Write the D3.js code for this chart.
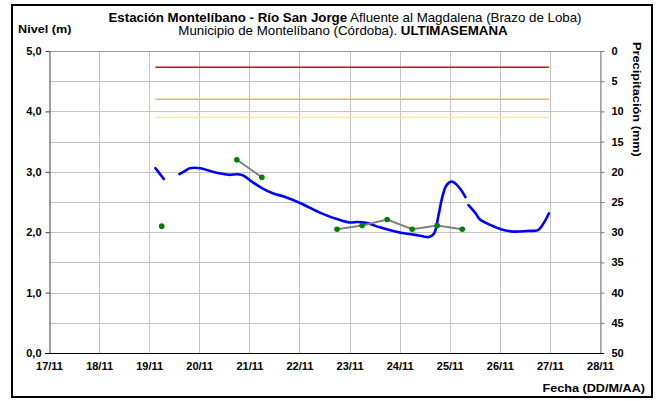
<!DOCTYPE html>
<html>
<head>
<meta charset="utf-8">
<script src="https://cdn.jsdelivr.net/npm/d3@7/dist/d3.min.js"></script>
<style>
  html, body { margin: 0; padding: 0; background: #fff; }
  svg { display: block; font-family: "Liberation Sans", Arial, sans-serif; }
</style>
</head>
<body>
<svg id="chart" width="657" height="401"></svg>
<script>
// Continuous stage record (m); null marks a break in the record
const levelTimes = [
  "19/11 03:00", "19/11 05:00", "19/11 07:00", "19/11 10:00",
  "19/11 14:30", "19/11 17:00", "19/11 19:30", "20/11 00:30", "20/11 04:30",
  "20/11 09:00", "20/11 14:00", "20/11 18:30", "20/11 21:00", "21/11 01:00",
  "21/11 06:00", "21/11 11:30", "21/11 16:30", "22/11 00:30", "22/11 10:00",
  "22/11 19:30", "23/11 00:30", "23/11 03:30", "23/11 08:30", "23/11 14:30",
  "24/11 00:30", "24/11 06:30", "24/11 11:30", "24/11 14:00", "24/11 16:30",
  "24/11 18:30", "24/11 20:30", "24/11 22:30", "25/11 01:00", "25/11 03:30",
  "25/11 06:00", "25/11 07:30", "25/11 08:15",
  "25/11 09:00", "25/11 12:30", "25/11 14:30", "25/11 19:30", "26/11 00:30",
  "26/11 06:30", "26/11 13:00", "26/11 18:30", "26/11 21:00", "26/11 23:30"
];
const levelValues = [
  3.06, 2.97, 2.88, null,
  2.96, 3.01, 3.06, 3.06, 3.02,
  2.98, 2.95, 2.96, 2.94, 2.84,
  2.73, 2.64, 2.59, 2.48, 2.32,
  2.20, 2.16, 2.17, 2.15, 2.08,
  1.99, 1.96, 1.93, 1.92, 1.98,
  2.26, 2.59, 2.78, 2.84, 2.78,
  2.67, 2.58, null,
  2.45, 2.31, 2.21, 2.12, 2.05,
  2.01, 2.02, 2.04, 2.15, 2.31
];

// Staff gauge readings taken at 06:00 and 18:00 (m)
const gaugeTimes = [
  "19/11 06:00", "19/11 18:00", "20/11 06:00", "20/11 18:00", "21/11 06:00",
  "21/11 18:00", "22/11 06:00", "22/11 18:00", "23/11 06:00", "23/11 18:00",
  "24/11 06:00", "24/11 18:00", "25/11 06:00"
];
const gaugeValues = [
  2.10, null, null, 3.20, 2.91,
  null, null, 2.05, 2.11, 2.21,
  2.05, 2.11, 2.05
];

// Alert thresholds (m)
const alertNames = ["roja", "naranja", "amarilla"];
const alertLevels = [4.73, 4.20, 3.90];
const alertColors = ["#e00000", "#f2b066", "#ffff33"];

// Axis ticks
const dayTickLabels = ["17/11", "18/11", "19/11", "20/11", "21/11", "22/11",
  "23/11", "24/11", "25/11", "26/11", "27/11", "28/11"];
const levelTicks = [0, 1, 2, 3, 4, 5];
const levelGrid = [0.5, 1, 1.5, 2, 2.5, 3, 3.5, 4, 4.5, 5];
const rainTicks = [0, 5, 10, 15, 20, 25, 30, 35, 40, 45, 50];

const parseTime = d3.timeParse("%d/%m %H:%M");
const parseDay = d3.timeParse("%d/%m");

const svg = d3.select("#chart");

// outer frame
svg.append("rect")
  .attr("x", 12).attr("y", 5).attr("width", 640).attr("height", 392)
  .attr("fill", "#fff").attr("stroke", "#000").attr("stroke-width", 2);

const plot = { left: 49, right: 600, top: 51, bottom: 353 };

const x = d3.scaleTime()
  .domain([parseDay("17/11"), parseDay("28/11")])
  .range([plot.left, plot.right]);
const y = d3.scaleLinear().domain([0, 5]).range([plot.bottom, plot.top]);
const yRain = d3.scaleLinear().domain([0, 50]).range([plot.top, plot.bottom]);

const dayDates = dayTickLabels.map(parseDay);

// gridlines
const grid = svg.append("g").attr("stroke", "#c4c4c4").attr("stroke-width", 1).attr("shape-rendering", "crispEdges");
grid.selectAll("line.v").data(dayDates.slice(1)).join("line")
  .attr("x1", d => Math.round(x(d)) + 0.5).attr("x2", d => Math.round(x(d)) + 0.5)
  .attr("y1", plot.top).attr("y2", plot.bottom);
grid.selectAll("line.h").data(levelGrid).join("line")
  .attr("x1", plot.left).attr("x2", plot.right)
  .attr("y1", d => Math.round(y(d)) + 0.5).attr("y2", d => Math.round(y(d)) + 0.5);

// top frame of plot area
svg.append("line").attr("x1", plot.left).attr("x2", plot.right + 0.5)
  .attr("y1", plot.top + 0.5).attr("y2", plot.top + 0.5)
  .attr("stroke", "#9a9a9a").attr("shape-rendering", "crispEdges");

// left axis (level)
const yAxis = d3.axisLeft(y).tickValues(levelTicks).tickSize(4).tickSizeOuter(0)
  .tickFormat(d => d3.format(".1f")(d).replace(".", ","));
const gy = svg.append("g").attr("transform", `translate(${plot.left + 0.5},0)`).call(yAxis);
gy.select(".domain").attr("stroke", "#404040");
gy.selectAll(".tick line").attr("stroke", "#404040");
gy.selectAll(".tick text").attr("x", -8).attr("font-size", 11).attr("font-weight", "bold").attr("fill", "#000");

// right axis (precipitation, inverted)
const rAxis = d3.axisRight(yRain).tickValues(rainTicks).tickSize(4).tickSizeOuter(0);
const gr = svg.append("g").attr("transform", `translate(${plot.right + 0.5},0)`).call(rAxis);
gr.select(".domain").attr("stroke", "#808080");
gr.selectAll(".tick line").attr("stroke", "#808080");
gr.selectAll(".tick text").attr("x", 11).attr("font-size", 11).attr("font-weight", "bold").attr("fill", "#000");

// bottom axis (dates)
const xAxis = d3.axisBottom(x).tickValues(dayDates).tickSize(0).tickSizeOuter(0)
  .tickFormat((d, i) => dayTickLabels[i]);
const gx = svg.append("g").attr("transform", `translate(0,${plot.bottom + 0.5})`).call(xAxis);
gx.select(".domain").attr("stroke", "#000").attr("d", `M${plot.left - 4},0H${plot.right + 4}`);
gx.selectAll(".tick text").attr("y", 9).attr("font-size", 11).attr("font-weight", "bold").attr("fill", "#000");

// alert threshold lines across the observed period
const tStart = parseTime(levelTimes[0]);
const tEnd = parseTime(levelTimes[levelTimes.length - 1]);
svg.append("g").selectAll("line").data(alertLevels).join("line")
  .attr("class", (d, i) => "alerta-" + alertNames[i])
  .attr("x1", x(tStart)).attr("x2", x(tEnd))
  .attr("y1", d => y(d)).attr("y2", d => y(d))
  .attr("stroke", (d, i) => alertColors[i])
  .attr("stroke-width", (d, i) => i === 2 ? 1.2 : 1.6);

// stage record
const levelData = levelTimes.map((t, i) => ({ t: parseTime(t), v: levelValues[i] }));
const levelLine = d3.line()
  .defined(d => d.v !== null)
  .x(d => x(d.t)).y(d => y(d.v))
  .curve(d3.curveCatmullRom.alpha(0.5));
svg.append("path").datum(levelData)
  .attr("d", levelLine)
  .attr("fill", "none").attr("stroke", "#0000ff").attr("stroke-width", 2.6)
  .attr("stroke-linejoin", "round").attr("stroke-linecap", "round");

// staff gauge readings
const gaugeData = gaugeTimes.map((t, i) => ({ t: parseTime(t), v: gaugeValues[i] }));
const gaugeLine = d3.line()
  .defined(d => d.v !== null)
  .x(d => x(d.t)).y(d => y(d.v));
svg.append("path").datum(gaugeData)
  .attr("d", gaugeLine)
  .attr("fill", "none").attr("stroke", "#808080").attr("stroke-width", 2);
svg.append("g").selectAll("circle").data(gaugeData.filter(d => d.v !== null)).join("circle")
  .attr("cx", d => x(d.t)).attr("cy", d => y(d.v)).attr("r", 2.8)
  .attr("fill", "#008000");

// titles (text is set slightly wide)
const title = svg.append("text").attr("transform", "translate(345,22) scale(1.11,1)")
  .attr("text-anchor", "middle").attr("font-size", 12).attr("fill", "#000");
title.append("tspan").attr("font-weight", "bold").text("Estación Montelíbano  - Río San Jorge");
title.append("tspan").text(" Afluente al Magdalena (Brazo de Loba)");

const title2 = svg.append("text").attr("transform", "translate(343,35) scale(1.11,1)")
  .attr("text-anchor", "middle").attr("font-size", 12).attr("fill", "#000");
title2.append("tspan").text("Municipio de Montelíbano (Córdoba). ");
title2.append("tspan").attr("font-weight", "bold").text("ULTIMASEMANA");

svg.append("text").attr("transform", "translate(18,33) scale(1.15,1)")
  .attr("font-size", 11).attr("font-weight", "bold").text("Nivel (m)");

svg.append("text").attr("transform", "translate(633,42) rotate(90) scale(1.16,1)")
  .attr("font-size", 11).attr("font-weight", "bold").text("Precipitación (mm)");

svg.append("text").attr("transform", "translate(645,392) scale(1.15,1)").attr("text-anchor", "end")
  .attr("font-size", 11).attr("font-weight", "bold").text("Fecha (DD/M/AA)");
</script>
</body>
</html>
